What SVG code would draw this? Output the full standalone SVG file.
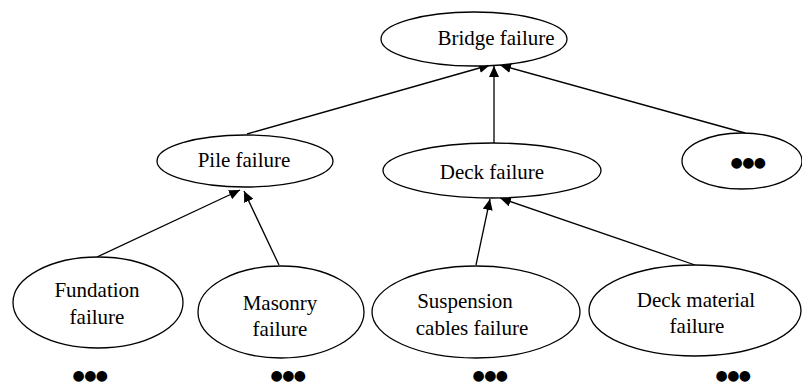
<svg xmlns="http://www.w3.org/2000/svg" width="802" height="383" viewBox="0 0 802 383">
<defs>
<marker id="ah" markerUnits="userSpaceOnUse" markerWidth="12" markerHeight="10" refX="11" refY="5" orient="auto">
<path d="M0,0 L11,5 L0,10 Z" fill="#000"/>
</marker>
</defs>
<rect width="802" height="383" fill="#fff"/>
<g id="edges" stroke="#000" stroke-width="1.3" marker-end="url(#ah)">
<line x1="247" y1="134" x2="490" y2="65"/>
<line x1="494" y1="143" x2="494" y2="66"/>
<line x1="745" y1="133" x2="500" y2="65"/>
<line x1="97" y1="257" x2="240" y2="190"/>
<line x1="279" y1="265" x2="244" y2="191"/>
<line x1="476" y1="265" x2="490" y2="199"/>
<line x1="695" y1="265" x2="500" y2="198"/>
</g>
<g id="shapes" fill="#fff" stroke="#000" stroke-width="1.3">
<ellipse id="bridge-shape" cx="474" cy="39" rx="93" ry="27"/>
<ellipse id="pile-shape" cx="245" cy="161" rx="88" ry="26"/>
<ellipse id="deck-shape" cx="492" cy="170.5" rx="109" ry="27.5"/>
<ellipse id="more-shape" cx="742" cy="161" rx="60" ry="28"/>
<ellipse id="fundation-shape" cx="98" cy="302.5" rx="85" ry="45.5"/>
<ellipse id="masonry-shape" cx="281" cy="312" rx="83" ry="46"/>
<ellipse id="suspension-shape" cx="476" cy="312" rx="104" ry="46"/>
<ellipse id="deckmat-shape" cx="695" cy="310.5" rx="106" ry="45.5"/>
</g>
<g id="labels" fill="#000" text-anchor="middle">
<text id="bridge" x="496" y="45" font-family="Liberation Serif" font-size="21">Bridge failure</text>
<text id="pile" x="244" y="167" font-family="Liberation Serif" font-size="21">Pile failure</text>
<text id="deck" x="492" y="179" font-family="Liberation Serif" font-size="21">Deck failure</text>
<text id="more" x="748" y="167" font-family="DejaVu Sans" font-size="14" letter-spacing="-0.5">●●●</text>
<g id="fundation"><text x="97" y="297" font-family="Liberation Serif" font-size="21">Fundation</text><text x="97" y="324" font-family="Liberation Serif" font-size="21">failure</text></g>
<g id="masonry"><text x="280" y="310" font-family="Liberation Serif" font-size="21">Masonry</text><text x="280" y="336" font-family="Liberation Serif" font-size="21">failure</text></g>
<g id="suspension"><text x="465" y="308" font-family="Liberation Serif" font-size="21">Suspension</text><text x="472" y="335" font-family="Liberation Serif" font-size="21">cables failure</text></g>
<g id="deckmat"><text x="696" y="307" font-family="Liberation Serif" font-size="21">Deck material</text><text x="697" y="333" font-family="Liberation Serif" font-size="21">failure</text></g>
<text x="90" y="380" font-family="DejaVu Sans" font-size="14" letter-spacing="-0.5">●●●</text>
<text x="288" y="380" font-family="DejaVu Sans" font-size="14" letter-spacing="-0.5">●●●</text>
<text x="490" y="380" font-family="DejaVu Sans" font-size="14" letter-spacing="-0.5">●●●</text>
<text x="733" y="380" font-family="DejaVu Sans" font-size="14" letter-spacing="-0.5">●●●</text>
</g>
</svg>
